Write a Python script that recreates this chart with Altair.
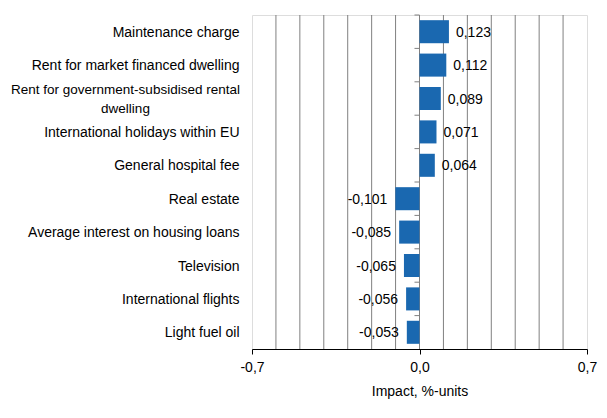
import altair as alt
import pandas as pd

categories = [
    "Maintenance charge",
    "Rent for market financed dwelling",
    "Rent for government-subsidised rental dwelling",
    "International holidays within EU",
    "General hospital fee",
    "Real estate",
    "Average interest on housing loans",
    "Television",
    "International flights",
    "Light fuel oil",
]
values = [0.123, 0.112, 0.089, 0.071, 0.064, -0.101, -0.085, -0.065, -0.056, -0.053]
grid_values = [-0.6, -0.5, -0.4, -0.3, -0.2, -0.1, 0.0, 0.1, 0.2, 0.3, 0.4, 0.5, 0.6]
tick_values = [-0.7, 0.0, 0.7]

labels = [f"{v:.3f}".replace(".", ",") for v in values]
df = pd.DataFrame({"cat": categories, "value": values, "label": labels})
grid_df = pd.DataFrame({"value": grid_values})

FONT = "Liberation Sans"
FS = 14
BLUE = "#1a68b0"
GRID = "#808080"

WRAP = "Rent for government-subsidised rental dwelling"
label_expr = (
    f"datum.value == '{WRAP}' ? "
    "['Rent for government-subsidised rental', 'dwelling'] : datum.label"
)
is_wrap = f"datum.value == '{WRAP}'"

yscale = alt.Scale(paddingInner=0, paddingOuter=0)
yaxis = alt.Axis(
    title=None, domain=False, ticks=False,
    labelPadding={"condition": {"test": is_wrap, "value": 127}, "value": 13},
    labelAlign={"condition": {"test": is_wrap, "value": "center"}, "value": "right"},
    labelOffset={"condition": {"test": is_wrap, "value": -8.5}, "value": 1},
    labelFontSize={"condition": {"test": is_wrap, "value": 13.5}, "value": FS},
    labelColor="black", labelFont=FONT, labelLimit=400,
    labelLineHeight=19, labelExpr=label_expr,
)
y = alt.Y("cat:N", sort=categories, scale=yscale, axis=yaxis)

xaxis = alt.Axis(
    values=tick_values, grid=False, title="Impact, %-units", tickColor="black",
    tickSize=5, domainColor="black", labelColor="black", titleColor="black",
    labelExpr="replace(replace(format(datum.value, '.1f'), '.', ','), '\u2212', '-')",
    labelFontSize=FS, titleFontSize=FS, titleFontWeight="normal", titlePadding=10,
    labelPadding=6, labelFont=FONT, titleFont=FONT, labelFlush=False,
)
x = alt.X("value:Q", scale=alt.Scale(domain=[-0.7, 0.7], nice=False, zero=False), axis=xaxis)

grid = alt.Chart(grid_df).mark_rule(color=GRID, strokeWidth=1).encode(x=x)

yticks = alt.Chart(df).mark_rule(color=GRID, strokeWidth=1).encode(
    y=alt.Y("cat:N", sort=categories, scale=yscale, axis=yaxis, bandPosition=0),
    x=alt.datum(0),
    x2=alt.datum(-0.021),
)

bars = alt.Chart(df).mark_bar(color=BLUE, height={"band": 0.69}).encode(
    x=x, x2=alt.datum(0), y=y
)

pos_text = alt.Chart(df).transform_filter("datum.value > 0").mark_text(
    align="left", baseline="middle", dx=7, dy=1, fontSize=FS, font=FONT, color="black"
).encode(x=x, y=y, text="label:N")

neg_text = alt.Chart(df).transform_filter("datum.value < 0").mark_text(
    align="right", baseline="middle", dx=-8, dy=1, fontSize=FS, font=FONT, color="black"
).encode(x=x, y=y, text="label:N")

chart = alt.layer(grid, yticks, bars, pos_text, neg_text).properties(
    width=335,
    height=334,
    autosize=alt.AutoSizeParams(type="none"),
    padding={"left": 244, "top": 7, "right": 12, "bottom": 60},
    background="white",
).configure_view(stroke="black", strokeWidth=1).configure(font=FONT)

chart.save("out.html", embed_options={"renderer": "svg", "actions": False})
